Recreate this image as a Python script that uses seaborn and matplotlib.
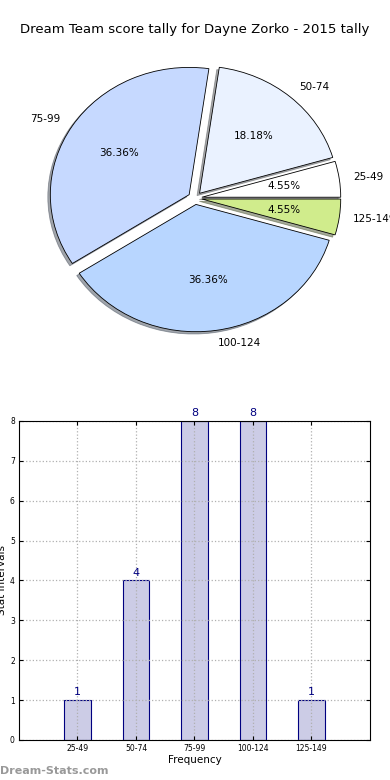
import numpy as np
import pandas as pd
import seaborn as sns
import matplotlib.pyplot as plt

# score tally data
intervals = ["25-49", "50-74", "75-99", "100-124", "125-149"]
counts = [1, 4, 8, 8, 1]
pie_colors = ["#ffffff", "#eaf2ff", "#c6d9ff", "#b8d6ff", "#d0ec8c"]

df = pd.DataFrame({"interval": intervals, "count": counts})

fig = plt.figure(figsize=(3.9, 7.8), dpi=100)
fig.text(0.5, 0.962, "Dream Team score tally for Dayne Zorko - 2015 tally",
         ha="center", va="center", fontsize=9.5)

# pie on top
ax1 = fig.add_axes([0.055, 0.542, 0.89, 0.408])
wedges, texts, autotexts = ax1.pie(df["count"], labels=df["interval"], colors=pie_colors,
                                   explode=[0.05] * len(counts),
                                   shadow={"ox": -0.013, "oy": -0.013, "shade": 0.65},
                                   autopct="%1.2f%%", startangle=0,
                                   wedgeprops={"edgecolor": "black", "linewidth": 0.6},
                                   textprops={"fontsize": 7.5})
ax1.set_aspect("auto")
ax1.set_xlim(-1.25, 1.25)
ax1.set_ylim(-1.25, 1.25)

# bar chart below
ax2 = fig.add_axes([0.0487, 0.0513, 0.9, 0.409])
sns.barplot(data=df, x="interval", y="count", ax=ax2, width=0.45, color="#cccce6",
            saturation=1, edgecolor="#000080", linewidth=0.8)
ax2.bar_label(ax2.containers[0], color="#000080", fontsize=8, padding=2)
ax2.set_xlim(-1, 5)
ax2.set_ylim(0, 8)
ax2.set_axisbelow(False)
ax2.grid(True, linestyle=":", color="#b0b0b0", linewidth=0.9)
ax2.tick_params(direction="in", top=True, right=True, labelsize=5.5, length=3, pad=3)
ax2.set_xlabel("Frequency", fontsize=7.5, labelpad=1)
ax2.set_ylabel("Stat Intervals", fontsize=7.5, labelpad=2)
for s in ax2.spines.values():
    s.set_linewidth(0.8)
    s.set_zorder(4)

fig.text(0.0, 0.012, "Dream-Stats.com", color="#999999", fontsize=8, fontweight="bold",
         ha="left", va="center")

plt.savefig("out.png", dpi=100)
